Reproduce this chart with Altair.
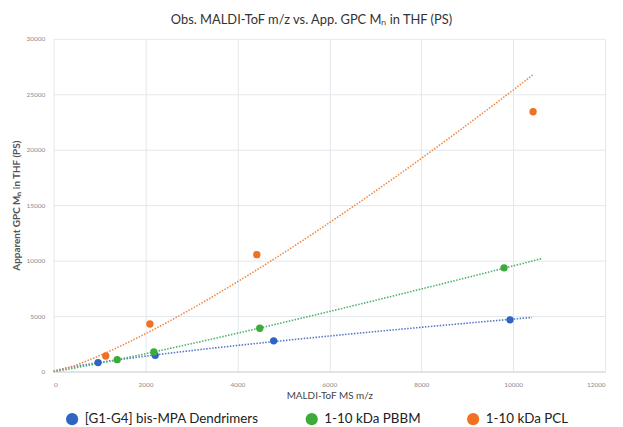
import altair as alt
import pandas as pd

series_names = ["[G1-G4] bis-MPA Dendrimers", "1-10 kDa PBBM", "1-10 kDa PCL"]
series_colors = ["#2F65C2", "#3CAB3A", "#F07122"]
line_colors = ["#5577C8", "#4DB06A", "#F08A45"]

dend_x = [969, 2212, 4789, 9931]
dend_y = [804, 1455, 2768, 4660]
pbbm_x = [1385, 2182, 4487, 9802]
pbbm_y = [1071, 1759, 3902, 9348]
pcl_x = [1135, 2096, 4423, 10433]
pcl_y = [1402, 4286, 10536, 23420]

trend_end = [10410, 10625, 10433]

x_ticks = [0, 2000, 4000, 6000, 8000, 10000, 12000]
y_ticks = [0, 5000, 10000, 15000, 20000, 25000, 30000]

rows = []
for name, xs, ys in zip(series_names, [dend_x, pbbm_x, pcl_x], [dend_y, pbbm_y, pcl_y]):
    for xv, yv in zip(xs, ys):
        rows.append({"series": name, "x": xv, "y": yv})
df = pd.DataFrame(rows)

FONT = "Lato"
xscale = alt.Scale(domain=[0, 12000], nice=False)
yscale = alt.Scale(domain=[0, 30000], nice=False)

xenc = alt.X("x:Q", scale=xscale, title="MALDI-ToF MS m/z",
             axis=alt.Axis(values=x_ticks, format="d", grid=True, ticks=False, domain=True,
                           domainColor="#cfd4d9", gridColor="#e3e8ec",
                           labelFontSize=6.5, labelColor="#8a8a8a", labelPadding=10,
                           titleFontSize=10, titleFontWeight="normal", titleColor="#444444",
                           titlePadding=3, labelFont=FONT, titleFont=FONT))
yenc = alt.Y("y:Q", scale=yscale, title="Apparent GPC Mₙ in THF (PS)",
             axis=alt.Axis(values=y_ticks, format="d", grid=True, ticks=False, domain=False,
                           gridColor="#e3e8ec",
                           labelFontSize=6.5, labelColor="#8a8a8a", labelPadding=9,
                           titleFontSize=10, titleFontWeight="bold", titleColor="#555555",
                           titlePadding=5, labelFont=FONT, titleFont=FONT))

color = alt.Color("series:N", scale=alt.Scale(domain=series_names, range=series_colors),
                  legend=alt.Legend(title=None, orient="none", legendX=12, legendY=377,
                                    direction="horizontal", symbolType="circle",
                                    symbolSize=150, symbolStrokeWidth=0, labelFontSize=13.5,
                                    labelFont=FONT, labelColor="#222222", columnPadding=46,
                                    symbolOffset=0, labelOffset=6, labelLimit=0))

layers = []
for name, lc, end in zip(series_names, line_colors, trend_end):
    layers.append(
        alt.Chart(df).transform_filter(alt.datum.series == name)
        .transform_regression("x", "y", method="pow", extent=[0, end])
        .mark_line(color=lc, strokeDash=[1.5, 1.5], strokeWidth=1.6)
        .encode(x=xenc, y=yenc)
    )

points = alt.Chart(df).mark_circle(size=55, opacity=1).encode(x=xenc, y=yenc, color=color)

chart = alt.layer(*layers, points).properties(
    width=557, height=336,
    autosize=alt.AutoSizeParams(type="none"),
    padding={"left": 46, "top": 29, "right": 10, "bottom": 60},
    title=alt.TitleParams("Obs. MALDI-ToF m/z vs. App. GPC Mₙ in THF (PS)",
                          font=FONT, fontSize=13, fontWeight="normal", color="#333333",
                          offset=9, dx=-18, anchor="middle"),
).configure_view(stroke=None)

chart.save("out.html", embed_options={"renderer": "svg", "actions": False})
